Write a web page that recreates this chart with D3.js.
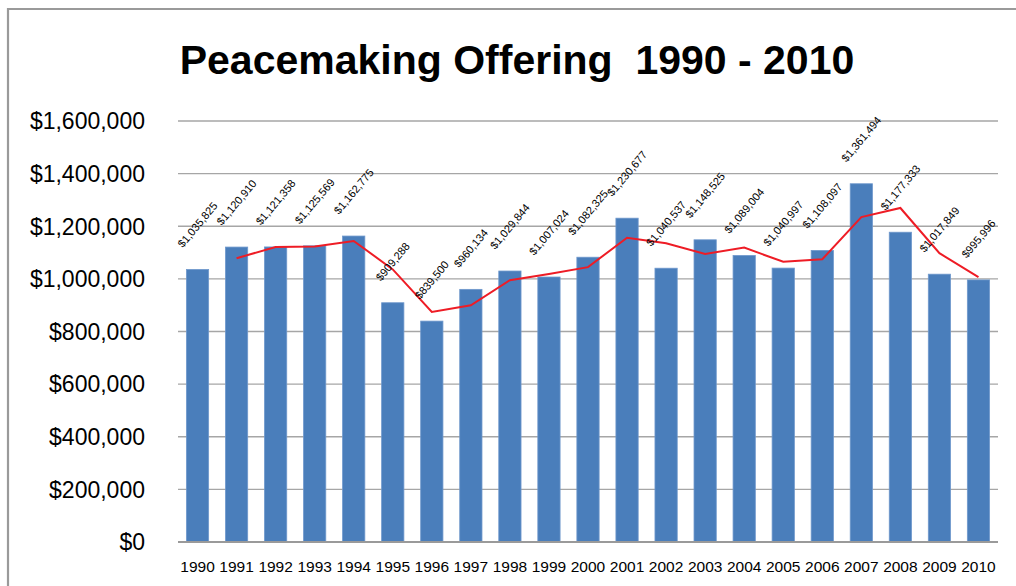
<!DOCTYPE html>
<html><head><meta charset="utf-8">
<script src="https://cdn.jsdelivr.net/npm/d3@7"></script>
<style>
html,body{margin:0;padding:0;background:#fff;}
svg{display:block;}
text{font-family:"Liberation Sans",Arial,sans-serif;fill:#000;}
</style></head>
<body><svg id="c" width="1016" height="586"></svg>
<script>
const years = ["1990","1991","1992","1993","1994","1995","1996","1997","1998","1999","2000","2001","2002","2003","2004","2005","2006","2007","2008","2009","2010"];
const offering = [1035825,1120910,1121358,1125569,1162775,909288,839500,960134,1029844,1007024,1082325,1230677,1040537,1148525,1089004,1040997,1108097,1361494,1177333,1017849,995996];
// 2-period moving average trendline (starts at 1991)
const trendYears = ["1991","1992","1993","1994","1995","1996","1997","1998","1999","2000","2001","2002","2003","2004","2005","2006","2007","2008","2009","2010"];
const trend = [1078368,1121134,1123464,1144172,1036032,874394,899817,994989,1018434,1044675,1156501,1135607,1094531,1118765,1065001,1074547,1234796,1269414,1097591,1006923];
const yTicks = [0,200000,400000,600000,800000,1000000,1200000,1400000,1600000];
const titleText = "Peacemaking Offering  1990 - 2010";

const svg = d3.select("#c");
const L = 178, R = 998, T = 121, B = 542;

// frame
svg.append("path").attr("d", `M8,600 L8,9 L1030,9`).attr("fill","none").attr("stroke","#9a9a9a").attr("stroke-width",2.2);

const x = d3.scaleBand().domain(years).range([L,R]).paddingInner(0.43).paddingOuter(0.215);
const y = d3.scaleLinear().domain([0,1600000]).range([B,T]);

// gridlines
svg.append("g").selectAll("line").data(yTicks.filter(d=>d>0)).join("line")
  .attr("x1",L).attr("x2",R).attr("y1",d=>y(d)).attr("y2",d=>y(d))
  .attr("stroke","#a6a6a6").attr("stroke-width",1.3);

// y axis labels
const fmt = d => "$" + d3.format(",")(d);
svg.append("g").selectAll("text").data(yTicks).join("text")
  .attr("x",145).attr("y",d=>y(d)).attr("dy","0.36em")
  .attr("text-anchor","end").style("font-size","23px").text(fmt);

// bars
svg.append("g").selectAll("rect").data(offering).join("rect")
  .attr("x",(d,i)=>x(years[i])).attr("width",x.bandwidth())
  .attr("y",d=>y(d)).attr("height",d=>B-y(d))
  .attr("fill","#4a7ebb").attr("stroke","#6f98cc").attr("stroke-width",0.8);

// x axis line
svg.append("line").attr("x1",L).attr("x2",R).attr("y1",B).attr("y2",B)
  .attr("stroke","#9a9a9a").attr("stroke-width",2);

// x labels
svg.append("g").selectAll("text").data(years).join("text")
  .attr("x",d=>x(d)+x.bandwidth()/2).attr("y",572)
  .attr("text-anchor","middle").style("font-size","15.5px").text(d=>d);

// trend line
const line = d3.line().x((d,i)=>x(trendYears[i])+x.bandwidth()/2).y(d=>y(d));
svg.append("path").datum(trend).attr("d",line).attr("fill","none")
  .attr("stroke","#ee1c25").attr("stroke-width",2);

// data labels
const ang = 50, rad = ang*Math.PI/180;
const lbl = svg.append("g").selectAll("text").data(offering).join("text")
  .attr("text-anchor","middle").attr("dy","0.35em").style("font-size","11px").text(fmt);
lbl.each(function(d,i){
  const len = this.getComputedTextLength();
  const h = len*Math.sin(rad) + 8*Math.cos(rad);
  const cx = x(years[i]) + x.bandwidth()/2;
  const cy = y(d) - 21 - h/2;
  d3.select(this).attr("transform",`translate(${cx},${cy}) rotate(${-ang})`);
});

// title
svg.append("text").attr("x",517).attr("y",74).attr("text-anchor","middle")
  .style("font-size","41px").style("font-weight","bold").style("white-space","pre")
  .text(titleText);
</script></body></html>
